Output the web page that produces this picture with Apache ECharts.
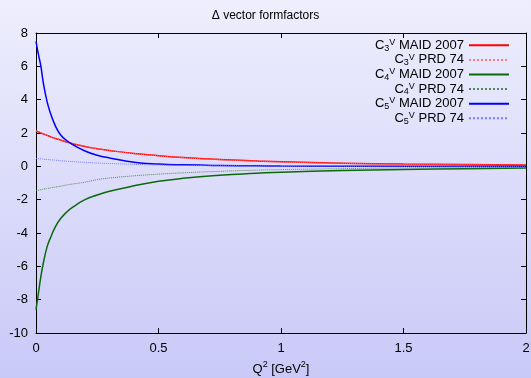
<!DOCTYPE html>
<html>
<head>
<meta charset="utf-8">
<script src="https://cdn.jsdelivr.net/npm/echarts@6/dist/echarts.min.js"></script>
<style>
  html, body { margin: 0; padding: 0; }
  body { width: 531px; height: 378px; background: linear-gradient(to bottom, #eeeefd 0%, #c9c9f8 100%); }
  #chart { width: 531px; height: 378px; }
</style>
</head>
<body>
<div id="chart"></div>
<script>
// Q^2 sample points [GeV^2]
const q2 = [0, 0.01, 0.02, 0.03, 0.045, 0.06, 0.08, 0.1, 0.125, 0.15, 0.2, 0.25, 0.3, 0.4, 0.5, 0.6, 0.75, 0.9, 1.0, 1.25, 1.5, 1.75, 2.0];

// vector form factors, MAID 2007
const c3Maid = [2.13, 2.06, 2.0, 1.94, 1.86, 1.77, 1.67, 1.58, 1.46, 1.36, 1.19, 1.06, 0.95, 0.77, 0.64, 0.53, 0.41, 0.32, 0.27, 0.19, 0.14, 0.11, 0.08];
const c4Maid = [-8.6, -7.6, -6.6, -5.8, -4.85, -4.25, -3.6, -3.15, -2.75, -2.45, -2.0, -1.72, -1.5, -1.17, -0.9, -0.72, -0.54, -0.42, -0.35, -0.25, -0.19, -0.14, -0.1];
const c5Maid = [7.5, 6.7, 6.0, 5.0, 3.9, 3.15, 2.4, 1.9, 1.55, 1.3, 0.92, 0.66, 0.5, 0.25, 0.14, 0.09, 0.05, 0.03, 0.02, 0.01, 0.01, 0.0, 0.0];

// vector form factors, PRD 74
const c3Prd = [2.13, 2.07, 2.01, 1.95, 1.87, 1.78, 1.68, 1.58, 1.47, 1.37, 1.2, 1.06, 0.95, 0.77, 0.63, 0.52, 0.4, 0.31, 0.26, 0.18, 0.13, 0.1, 0.07];
const c4Prd = [-1.46, -1.43, -1.4, -1.37, -1.33, -1.29, -1.24, -1.19, -1.12, -1.06, -0.95, -0.8, -0.7, -0.57, -0.47, -0.39, -0.3, -0.23, -0.2, -0.14, -0.1, -0.08, -0.06];
const c5Prd = [0.47, 0.46, 0.45, 0.43, 0.41, 0.39, 0.37, 0.34, 0.31, 0.28, 0.24, 0.2, 0.17, 0.12, 0.08, 0.06, 0.04, 0.03, 0.02, 0.01, 0.01, 0.005, 0.0];

const xTicks = ['0', '0.5', '1', '1.5', '2'];
const yTicks = ['-10', '-8', '-6', '-4', '-2', '0', '2', '4', '6', '8'];

const seriesDefs = [
  { name: 'C3V MAID 2007', idx: '3', rest: ' MAID 2007', data: c3Maid, color: '#ff0000', type: 'solid', width: 1.5 },
  { name: 'C3V PRD 74',    idx: '3', rest: ' PRD 74',    data: c3Prd,  color: '#ff7a7a', type: 'dotted', width: 1 },
  { name: 'C4V MAID 2007', idx: '4', rest: ' MAID 2007', data: c4Maid, color: '#0a6a0a', type: 'solid', width: 1.5 },
  { name: 'C4V PRD 74',    idx: '4', rest: ' PRD 74',    data: c4Prd,  color: '#4d8a4d', type: 'dotted', width: 1 },
  { name: 'C5V MAID 2007', idx: '5', rest: ' MAID 2007', data: c5Maid, color: '#0000ff', type: 'solid', width: 1.5 },
  { name: 'C5V PRD 74',    idx: '5', rest: ' PRD 74',    data: c5Prd,  color: '#7a7aff', type: 'dotted', width: 1 }
];

const font = 'Liberation Sans, Arial, Helvetica, sans-serif';
const chart = echarts.init(document.getElementById('chart'), null, { renderer: 'canvas' });

chart.setOption({
  backgroundColor: 'transparent',
  animation: false,
  textStyle: { fontFamily: font },
  title: {
    text: '\u0394 vector formfactors',
    left: 'center',
    top: 5,
    textStyle: { fontFamily: font, fontSize: 12, fontWeight: 'normal', color: '#000' }
  },
  grid: { left: 36, right: 5, top: 33, bottom: 45, containLabel: false, outerBoundsMode: 'none' },
  legend: {
    right: 21,
    top: 38,
    orient: 'vertical',
    align: 'right',
    itemGap: 0,
    itemWidth: 40,
    itemHeight: 14,
    padding: 0,
    itemStyle: { opacity: 0 },
    data: seriesDefs.map(s => s.name),
    formatter: function (name) {
      const s = seriesDefs.find(d => d.name === name);
      return '{c|C}{sub|' + s.idx + '}{sup|V}{t|' + s.rest + '}';
    },
    textStyle: {
      fontFamily: font,
      color: '#000',
      lineHeight: 14.6,
      rich: {
        c: { fontSize: 13, fontFamily: font, lineHeight: 14.6 },
        sub: { fontSize: 9, fontFamily: font, lineHeight: 14.6, verticalAlign: 'bottom' },
        sup: { fontSize: 9, fontFamily: font, lineHeight: 14.6, verticalAlign: 'top' },
        t: { fontSize: 13, fontFamily: font, lineHeight: 14.6 }
      }
    }
  },
  xAxis: [{
    type: 'value', min: 0, max: 2, interval: 0.5,
    axisLine: { onZero: false, lineStyle: { color: '#000', width: 1 } },
    axisTick: { inside: true, length: 5, lineStyle: { color: '#000' } },
    splitLine: { show: false },
    axisLabel: {
      margin: 9, fontSize: 13, color: '#000', fontFamily: font,
      formatter: v => xTicks[Math.round(v / 0.5)]
    },
    name: '{a|Q}{s|2}{a| [GeV}{s|2}{a|]}',
    nameLocation: 'middle',
    nameGap: 27,
    nameTextStyle: {
      rich: {
        a: { fontSize: 13, fontFamily: font, color: '#000', lineHeight: 16, verticalAlign: 'bottom' },
        s: { fontSize: 9, fontFamily: font, color: '#000', lineHeight: 16, verticalAlign: 'top' }
      }
    }
  }, {
    type: 'value', min: 0, max: 2, interval: 0.5, position: 'top',
    axisLine: { onZero: false, lineStyle: { color: '#000', width: 1 } },
    axisTick: { inside: true, length: 5, lineStyle: { color: '#000' } },
    axisLabel: { show: false },
    splitLine: { show: false }
  }],
  yAxis: [{
    type: 'value', min: -10, max: 8, interval: 2,
    axisLine: { show: true, onZero: false, lineStyle: { color: '#000', width: 1 } },
    axisTick: { show: true, inside: true, length: 5, lineStyle: { color: '#000' } },
    splitLine: { show: false },
    axisLabel: {
      margin: 8, fontSize: 13, color: '#000', fontFamily: font,
      formatter: v => yTicks[Math.round((v + 10) / 2)]
    }
  }, {
    type: 'value', min: -10, max: 8, interval: 2, position: 'right',
    axisLine: { show: true, onZero: false, lineStyle: { color: '#000', width: 1 } },
    axisTick: { show: true, inside: true, length: 5, lineStyle: { color: '#000' } },
    axisLabel: { show: false },
    splitLine: { show: false }
  }],
  series: seriesDefs.map(s => ({
    name: s.name,
    type: 'line',
    xAxisIndex: 0,
    yAxisIndex: 0,
    symbol: 'none',
    smooth: true,
    clip: true,
    color: s.color,
    lineStyle: { color: s.color, width: s.width, type: s.type },
    data: q2.map((x, i) => [x, s.data[i]])
  }))
});
</script>
</body>
</html>
